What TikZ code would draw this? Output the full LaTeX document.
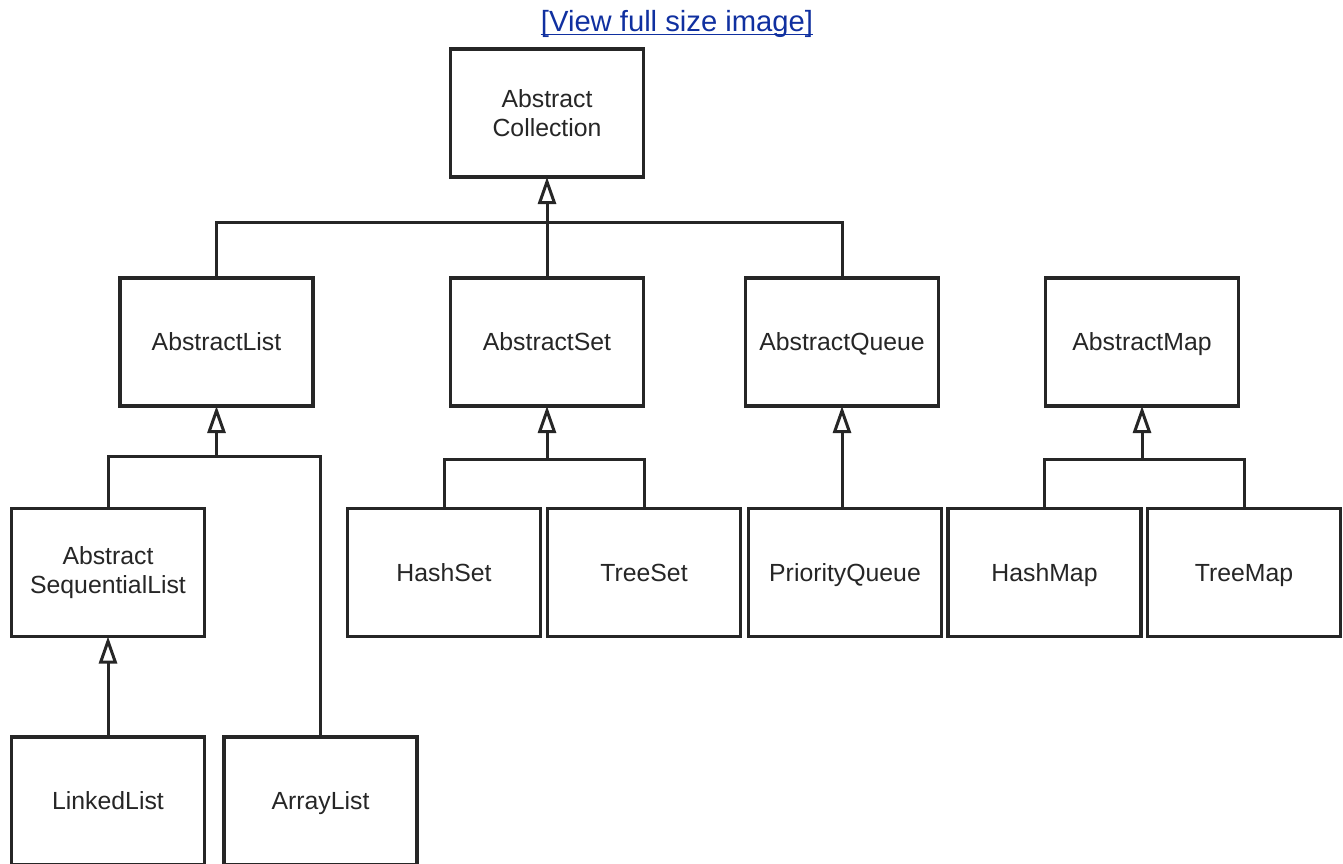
\documentclass[tikz,border=0pt]{standalone}
\usepackage{fontspec}
\setmainfont{Liberation Sans}
\usetikzlibrary{arrows.meta}
\definecolor{linkblue}{RGB}{16,48,160}
\definecolor{ink}{RGB}{38,38,38}
\begin{document}
\begin{tikzpicture}[x=0.5pt,y=-0.5pt,
  cls/.style={draw=ink, line width=1.7pt, fill=white,
    minimum width=96.5pt, minimum height=64pt, inner sep=0pt, outer sep=0pt,
    align=center, font=\fontsize{12.4}{14.4}\selectfont, text=ink},
  oneline/.style={cls, text height=11pt, text depth=2.1pt},
  wire/.style={draw=ink, line width=1.5pt},
  inherit/.style={wire, -{Triangle[open, length=13.5pt, width=9pt, line width=1.5pt]}}
]
\useasboundingbox (0,0) rectangle (1343,863);
\clip (0,0) rectangle (1343,863);

% link caption above the hierarchy
\node[anchor=base, inner sep=0pt, text=linkblue,
      font=\fontsize{14.6}{17}\selectfont] (link) at (677,31) {[View full size image]};
\draw[linkblue, line width=0.8pt]
  ([yshift=-1.8pt]link.base west) -- ([yshift=-1.8pt]link.base east);

% classes
\node[cls]     (coll)     at (547,113)    {Abstract\\Collection};
\node[oneline] (alist)    at (216.5,342)  {AbstractList};
\node[oneline] (aset)     at (547,342)    {AbstractSet};
\node[oneline] (aqueue)   at (842,342)    {AbstractQueue};
\node[oneline] (amap)     at (1142,342)   {AbstractMap};
\node[cls]     (aseq)     at (108,572.5)  {Abstract\\SequentialList};
\node[oneline] (hashset)  at (444,572.5)  {HashSet};
\node[oneline] (treeset)  at (644,572.5)  {TreeSet};
\node[oneline] (pq)       at (845,572.5)  {PriorityQueue};
\node[oneline] (hashmap)  at (1044.5,572.5) {HashMap};
\node[oneline] (treemap)  at (1244,572.5) {TreeMap};
\node[oneline] (linked)   at (108,801)    {LinkedList};
\node[oneline] (array)    at (320.5,801)  {ArrayList};

% junction points of the shared inheritance lines
\coordinate (topbus)  at (547,222);
\coordinate (listbus) at (216.5,456);
\coordinate (setbus)  at (547,459);
\coordinate (mapbus)  at (1142,459);

% AbstractCollection subclasses
\draw[wire] (alist.north) |- (topbus) -| (aqueue.north);
\draw[inherit] (aset.north) -- (coll.south);

% list branch
\draw[wire] (aseq.north) |- (listbus) -| (array.north);
\draw[inherit] (listbus) -- (alist.south);
\draw[inherit] (linked.north) -- (aseq.south);

% set branch
\draw[wire] (hashset.north) |- (setbus) -| (treeset.north);
\draw[inherit] (setbus) -- (aset.south);

% queue branch
\draw[inherit] (aqueue.south |- pq.north) -- (aqueue.south);

% map branch
\draw[wire] (hashmap.north) |- (mapbus) -| (treemap.north);
\draw[inherit] (mapbus) -- (amap.south);
\end{tikzpicture}
\end{document}
